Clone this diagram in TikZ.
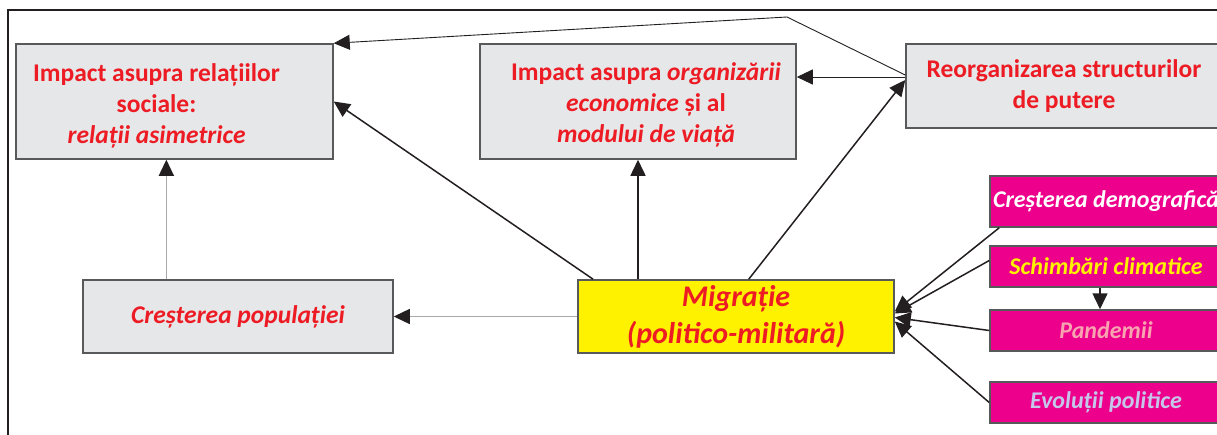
\documentclass[tikz,border=0pt]{standalone}
\usepackage{fontspec}
\setmainfont{Carlito}
\usepackage{tikz}
\usetikzlibrary{arrows.meta,calc}

\definecolor{boxGray}{HTML}{E6E7E8}
\definecolor{edgeGray}{HTML}{58595B}
\definecolor{textRed}{HTML}{ED1C24}
\definecolor{migYellow}{HTML}{FFF200}
\definecolor{boxPink}{HTML}{EC008C}
\definecolor{panText}{HTML}{F7A3B0}
\definecolor{evoText}{HTML}{C5C6EA}
\definecolor{arrowDark}{HTML}{231F20}
\definecolor{lineGray}{HTML}{A7A9AC}

\begin{document}
\begin{tikzpicture}[x=1pt,y=-1pt,
    grayBox/.style={draw=edgeGray, line width=1.5pt, fill=boxGray, inner sep=0pt},
    pinkBox/.style={draw=edgeGray, line width=1.5pt, fill=boxPink, inner sep=0pt,
        minimum width=232, font=\fontsize{24}{28}\selectfont\bfseries\itshape},
    redText/.style={text=textRed, align=center, font=\fontsize{25.5}{31}\selectfont\bfseries},
    mainArrow/.style={-{Triangle[length=16pt,width=15pt]}, line width=1.5pt, draw=arrowDark},
    thinArrow/.style={-{Triangle[length=16pt,width=15pt]}, line width=0.9pt, draw=arrowDark},
    grayArrow/.style={-{Triangle[length=16pt,width=15pt,color=arrowDark]}, line width=1.3pt,
        draw=lineGray}]
        % page size of the reference
        \useasboundingbox (0,0) rectangle (1217,434);
        \clip (0,0) rectangle (1217,434);

        % outer frame, cut by the page
        \draw[line width=1.5pt, arrowDark] (8,460) -- (8,10) -- (1240,10);

        % upper row of impact boxes
        \node (soc) [grayBox, minimum width=317, minimum height=115] at (174.5,101.5) {};
        \node (socTxt) [redText] at ($(soc.center)+(-18,4)$)
            {Impact asupra relațiilor\\ sociale:\\ \textit{relații asimetrice}};
        \node (eco) [grayBox, minimum width=316, minimum height=115] at (638,101.5) {};
        \node (ecoTxt) [redText] at ($(eco.center)+(8,3)$)
            {Impact asupra \textit{organizării}\\ \textit{economice} și al\\ \textit{modului de viață}};
        \node (put) [grayBox, redText, minimum width=316, minimum height=84] at (1064,86)
            {Reorganizarea structurilor\\ de putere};

        % middle row
        \node (pop) [grayBox, redText, minimum width=310, minimum height=73] at (238,316.5)
            {\textit{Creșterea populației}};
        \node (mig) [grayBox, redText, fill=migYellow, minimum width=316, minimum height=73,
            font=\fontsize{30}{37}\selectfont\bfseries\itshape] at (736,316.5)
            {Migrație\\ (politico-militară)};

        % causes on the right
        \node (dem) [pinkBox, minimum height=51, text=white] at (1106,201.5) {Creșterea demografică};
        \node (cli) [pinkBox, minimum height=41, text=migYellow] at (1106,266.5) {Schimbări climatice};
        \node (pan) [pinkBox, minimum height=41, text=panText] at (1106,330.5) {Pandemii};
        \node (evo) [pinkBox, minimum height=41, text=evoText] at (1106,402.5) {Evoluții politice};

        % helper points on the box edges
        \coordinate (popTop) at ($(pop.north west)!0.27!(pop.north east)$);
        \coordinate (migA) at ($(mig.north west)!0.05!(mig.north east)$);
        \coordinate (migB) at ($(mig.north west)!0.54!(mig.north east)$);
        \coordinate (putIn) at ($(put.west)+(0,-6)$);
        \coordinate (putOut) at ($(put.west)+(0,-9)$);
        \coordinate (putTop) at ($(put.west)+(0,-11)$);
        \coordinate (bend) at (787,17);
        \coordinate (cliDown) at ($(cli.south)+(-6,0)$);

        % effects of migration
        \draw[grayArrow] (mig.west) -- (pop.east);
        \draw[grayArrow] (popTop) -- (popTop |- soc.south);
        \draw[mainArrow] (migA) -- (soc.east);
        \draw[mainArrow] (eco.south |- mig.north) -- (eco.south);
        \draw[mainArrow] (migB) -- (putIn);
        \draw[thinArrow] (putOut) -- (putOut -| eco.east);
        \draw[thinArrow] (putTop) -- (bend) -- (soc.north east);

        % causes of migration
        \draw[mainArrow] ($(dem.south west)+(10,0)$) -- ($(mig.east)+(0,-5)$);
        \draw[mainArrow] ($(cli.west)+(0,-6)$) -- ($(mig.east)+(0,-3)$);
        \draw[mainArrow] (pan.west) -- ($(mig.east)+(0,1)$);
        \draw[mainArrow] (evo.west) -- ($(mig.east)+(0,5)$);
        \draw[mainArrow] (cliDown) -- (cliDown |- pan.north);
\end{tikzpicture}
\end{document}
